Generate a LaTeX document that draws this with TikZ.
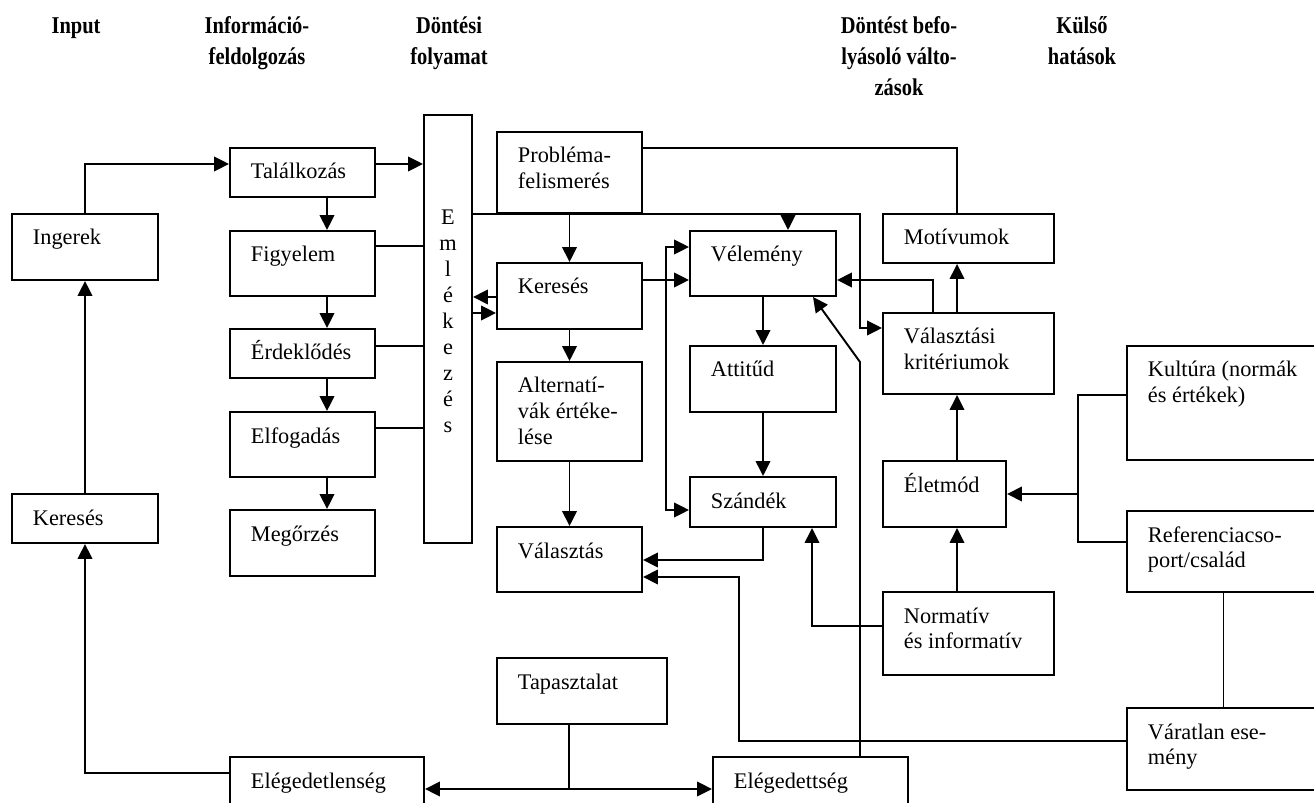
\documentclass[tikz,border=0pt]{standalone}
\usepackage{fontspec}
\setmainfont{Liberation Serif}
\newfontfamily\fejfont[FakeStretch=0.85]{Liberation Serif}
\usetikzlibrary{arrows.meta,fit}
\newcommand{\balra}[1]{\begin{tabular}[t]{@{}l@{}}#1\end{tabular}}
\newcommand{\kozep}[1]{\begin{tabular}[t]{@{}c@{}}#1\end{tabular}}

\begin{document}
\begin{tikzpicture}[x=0.02cm, y=-0.02cm, line width=1.1pt,
    keret/.style={draw, inner sep=0pt},
    szoveg/.style={anchor=base west, inner sep=0pt, font=\fontsize{12.7}{14.7}\selectfont},
    betu/.style={anchor=base, inner sep=0pt, font=\fontsize{12.7}{14.7}\selectfont},
    fej/.style={anchor=base, inner sep=0pt, font=\fejfont\bfseries\fontsize{13.7}{17.6}\selectfont},
    nyil/.style={-{Triangle[length=0.3cm,width=0.29cm]}},
    ketnyil/.style={{Triangle[length=0.3cm,width=0.29cm]}-{Triangle[length=0.3cm,width=0.29cm]}}]
        \useasboundingbox (0,0) rectangle (1314,803);
        \clip (0,0) rectangle (1314,803);

        % fejlec
        \node[fej] (h1) at (76,34) {\kozep{Input}};
        \node[fej] (h2) at (257,34) {\kozep{Információ-\\feldolgozás}};
        \node[fej] (h3) at (449,34) {\kozep{Döntési\\folyamat}};
        \node[fej] (h4) at (899,34) {\kozep{Döntést befo-\\lyásoló válto-\\zások}};
        \node[fej] (h5) at (1082,34) {\kozep{Külső\\hatások}};

        % dobozok
        \foreach \nev/\xa/\ya/\xb/\yb/\felirat in {
        ingerek/12/214/158/280/Ingerek, ikereses/12/494/158/543/Keresés,
        talalkozas/230/148/375/197/Találkozás, figyelem/230/231/375/296/Figyelem,
        erdeklodes/230/329/375/378/Érdeklődés, elfogadas/230/412/375/477/Elfogadás,
        megorzes/230/510/375/576/Megőrzés,
        problema/497/132/642/213/{Probléma-\\felismerés}, dkereses/497/263/642/329/Keresés,
        alternativak/497/362/642/461/{Alternatí-\\vák értéke-\\lése},
        valasztas/497/527/642/592/Választás, tapasztalat/497/658/667/724/Tapasztalat,
        velemeny/690/231/836/296/Vélemény, attitud/690/346/836/412/Attitűd,
        szandek/690/477/836/527/Szándék,
        motivumok/883/214/1054/263/Motívumok,
        kriteriumok/883/313/1054/394/{Választási\\kritériumok},
        eletmod/883/461/1006/527/Életmód, normativ/883/592/1054/675/{Normatív\\és informatív},
        kultura/1127/346/1320/460/{Kultúra (normák\\és értékek)},
        referencia/1127/511/1320/592/{Referenciacso-\\port/család},
        varatlan/1127/708/1320/790/{Váratlan ese-\\mény},
        elegedetlenseg/230/757/424/815/Elégedetlenség,
        elegedettseg/713/757/908/815/Elégedettség}
        {
        \node[keret, fit={(\xa,\ya) (\xb,\yb)}] (\nev) {};
        \node[szoveg] (\nev-t) at (\xa+20,\ya+31) {\balra{\felirat}};
        }

        % emlekezes
        \node[keret, fit={(424,115) (472,543)}] (emlekezes) {};
        \foreach \b [count=\i] in {E,m,l,é,k,e,z,é,s}
        \node[betu] (emb\i) at (448,199+26*\i) {\b};

        % input
        \draw[nyil] (ingerek.north) |- (talalkozas.west |- 0,164);
        \draw[nyil] (ikereses.north) -- (ingerek.south);
        \draw[nyil] (elegedetlenseg.west |- 0,773) -| (ikereses.south);

        % informaciofeldolgozas
        \draw[nyil] (talalkozas.east |- 0,164) -- (emlekezes.west |- 0,164);
        \foreach \a/\b in {talalkozas/figyelem, figyelem/erdeklodes,
        erdeklodes/elfogadas, elfogadas/megorzes}
        \draw[nyil] (\a.south -| 327,0) -- (\b.north -| 327,0);
        \foreach \a/\y in {figyelem/246, erdeklodes/346, elfogadas/428}
        \draw (\a.east |- 0,\y) -- (emlekezes.west |- 0,\y);

        % dontesi folyamat
        \coordinate (elag) at (788,214);
        \coordinate (tap) at (569,789);
        \draw[nyil] (emlekezes.east |- 0,214) -| (860,328) -- (kriteriumok.west |- 0,328);
        \draw[nyil] (elag) -- (velemeny.north -| elag);
        \draw (problema.east |- 0,148) -| (motivumok.north -| 957,0);
        \draw[nyil] (problema.south) -- (dkereses.north);
        \draw[nyil] (dkereses.west |- 0,297) -- (emlekezes.east |- 0,297);
        \draw[nyil] (emlekezes.east |- 0,313) -- (dkereses.west |- 0,313);
        \draw[nyil] (dkereses.east |- 0,280) -- (velemeny.west |- 0,280);
        \draw[ketnyil] (velemeny.west |- 0,247) -| (666,510) -- (szandek.west |- 0,510);
        \draw[nyil] (dkereses.south) -- (alternativak.north);
        \draw[nyil] (alternativak.south) -- (valasztas.north);
        \draw[nyil] (velemeny.south) -- (attitud.north);
        \draw[nyil] (attitud.south) -- (szandek.north);
        \draw[nyil] (szandek.south) |- (valasztas.east |- 0,560);
        \draw[nyil] (varatlan.west |- 0,741) -| (739,577) -- (valasztas.east |- 0,577);
        \draw (tapasztalat.south -| tap) -- (tap);
        \draw[ketnyil] (elegedetlenseg.east |- tap) -- (elegedettseg.west |- tap);
        \draw[nyil] (elegedettseg.north -| 860,0) -- (860,362) -- (velemeny.south -| 813,0);

        % befolyasolo valtozasok
        \draw[nyil] (normativ.west |- 0,626) -| (szandek.south -| 812,0);
        \draw[nyil] (normativ.north -| 957,0) -- (eletmod.south -| 957,0);
        \draw[nyil] (eletmod.north -| 957,0) -- (kriteriumok.south -| 957,0);
        \draw[nyil] (kriteriumok.north -| 957,0) -- (motivumok.south -| 957,0);
        \draw[nyil] (kriteriumok.north -| 933,0) |- (velemeny.east |- 0,280);

        % kulso hatasok
        \coordinate (csomo) at (1078,494);
        \draw (kultura.west |- 0,395) -| (1078,542) -- (referencia.west |- 0,542);
        \draw[nyil] (csomo) -- (eletmod.east);
        \draw (referencia.south) -- (varatlan.north);
\end{tikzpicture}
\end{document}
